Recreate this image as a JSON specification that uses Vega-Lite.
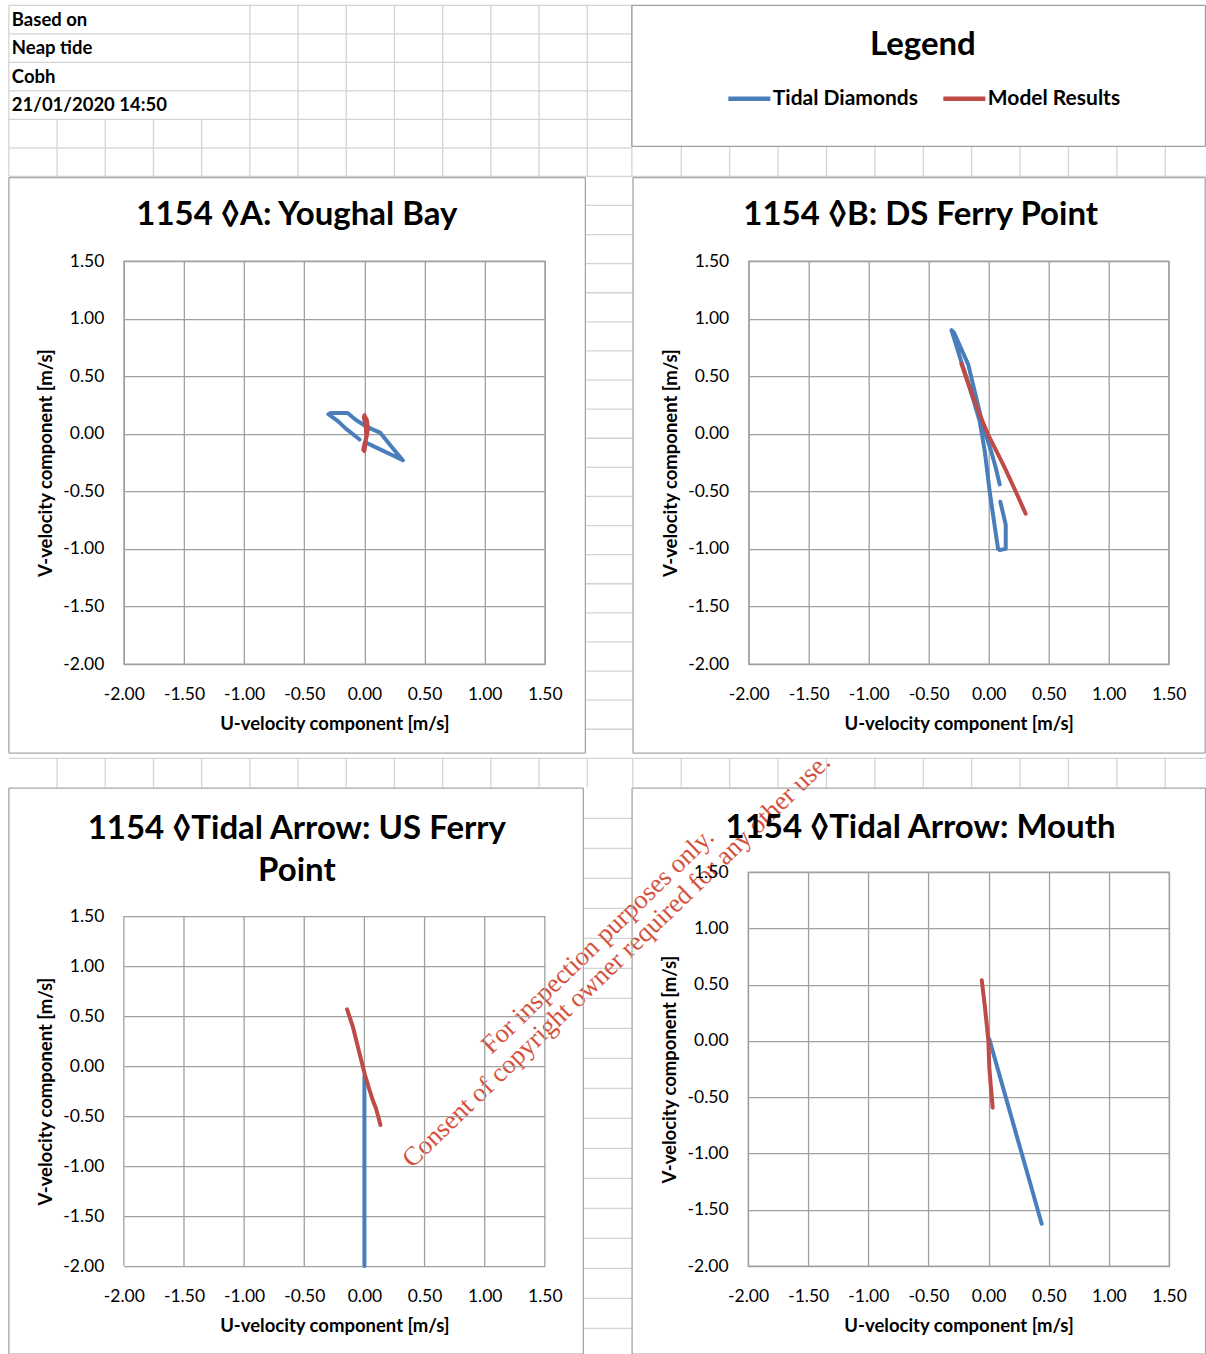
{
  "$schema": "https://vega.github.io/schema/vega-lite/v6.json",
  "background": "white",
  "padding": {"left": 6.85, "top": 4.35, "right": 0, "bottom": 0},
  "config": {
    "font": "Lato",
    "locale": {"number": {"decimal": ".", "thousands": ",", "grouping": [3], "currency": ["", ""], "minus": "-"}},
    "view": {"stroke": "#a0a0a0", "strokeWidth": 1.3},
    "axis": {"grid": true, "gridColor": "#a0a0a0", "gridWidth": 1.3, "domain": false, "ticks": false, "labelFont": "Lato", "labelFontSize": 17.5, "labelColor": "#000000", "labelFlush": false, "labelOverlap": false, "titleFont": "Lato", "titleFontSize": 18.5, "titleFontWeight": "bold", "titleColor": "#000000"},
    "axisX": {"labelPadding": 21, "titlePadding": 12},
    "axisY": {"labelPadding": 20, "titlePadding": 7},
    "title": {"font": "Lato", "fontSize": 33, "fontWeight": "bold", "color": "#000000", "anchor": "middle", "frame": "group"},
    "legend": {"padding": 0, "titleFont": "Lato", "titleFontSize": 33, "titleFontWeight": "bold", "titleColor": "#000000", "titleAnchor": "middle", "titlePadding": 13, "labelFont": "Lato", "labelFontSize": 21, "labelFontWeight": "bold", "labelColor": "#000000", "labelOffset": 0, "columnPadding": 15, "symbolType": "stroke", "symbolSize": 1764, "symbolStrokeWidth": 4.5}
  },
  "columns": 1,
  "align": "none",
  "spacing": -543.3,
  "concat": [
    {
      "columns": 1,
      "align": "none",
      "spacing": -1153.3,
      "concat": [
        {
          "width": 508, "height": 171,
          "view": {"stroke": null},
          "layer": [
            {
              "data": {"values": [{"k": 0}, {"k": 5}, {"k": 6}, {"k": 7}, {"k": 8}, {"k": 9}, {"k": 10}, {"k": 11}, {"k": 12}, {"k": 12.925}]},
              "mark": {"type": "rule", "color": "#d4d4d4", "strokeWidth": 1.3},
              "encoding": {
                "x": {"field": "k", "type": "quantitative", "scale": {"domain": [2.3859, 12.925], "nice": false, "zero": false}, "axis": null},
                "y": {"datum": 0, "type": "quantitative", "scale": {"domain": [0, 6], "nice": false, "zero": false, "reverse": true}, "axis": null},
                "y2": {"datum": 6}
              }
            },
            {
              "data": {"values": [{"k": 1}, {"k": 2}, {"k": 3}, {"k": 4}]},
              "mark": {"type": "rule", "color": "#d4d4d4", "strokeWidth": 1.3},
              "encoding": {
                "x": {"field": "k", "type": "quantitative", "axis": null},
                "y": {"datum": 4, "type": "quantitative", "axis": null},
                "y2": {"datum": 6}
              }
            },
            {
              "data": {"values": [{"r": 0}, {"r": 1}, {"r": 2}, {"r": 3}, {"r": 4}, {"r": 5}]},
              "mark": {"type": "rule", "color": "#d4d4d4", "strokeWidth": 1.3},
              "encoding": {
                "y": {"field": "r", "type": "quantitative", "axis": null},
                "x": {"datum": 0, "type": "quantitative", "axis": null},
                "x2": {"datum": 12.925}
              }
            },
            {
              "data": {"values": [
                {"r": 6, "k0": 0, "k1": 24.834},
                {"r": 7.021, "k0": 11.961, "k1": 12.946},
                {"r": 8.042, "k0": 11.961, "k1": 12.946},
                {"r": 9.063, "k0": 11.961, "k1": 12.946},
                {"r": 10.084, "k0": 11.961, "k1": 12.946},
                {"r": 11.105, "k0": 11.961, "k1": 12.946},
                {"r": 12.126, "k0": 11.961, "k1": 12.946},
                {"r": 13.147, "k0": 11.961, "k1": 12.946},
                {"r": 14.168, "k0": 11.961, "k1": 12.946},
                {"r": 15.189, "k0": 11.961, "k1": 12.946},
                {"r": 16.211, "k0": 11.961, "k1": 12.946},
                {"r": 17.232, "k0": 11.961, "k1": 12.946},
                {"r": 18.253, "k0": 11.961, "k1": 12.946},
                {"r": 19.274, "k0": 11.961, "k1": 12.946},
                {"r": 20.295, "k0": 11.961, "k1": 12.946},
                {"r": 21.316, "k0": 11.961, "k1": 12.946},
                {"r": 22.337, "k0": 11.961, "k1": 12.946},
                {"r": 23.358, "k0": 11.961, "k1": 12.946},
                {"r": 24.379, "k0": 11.961, "k1": 12.946},
                {"r": 25.4, "k0": 11.961, "k1": 12.946},
                {"r": 26.421, "k0": 0, "k1": 24.834},
                {"r": 28.526, "k0": 11.929, "k1": 12.925},
                {"r": 29.579, "k0": 11.929, "k1": 12.925},
                {"r": 30.632, "k0": 11.929, "k1": 12.925},
                {"r": 31.684, "k0": 11.929, "k1": 12.925},
                {"r": 32.737, "k0": 11.929, "k1": 12.925},
                {"r": 33.789, "k0": 11.929, "k1": 12.925},
                {"r": 34.842, "k0": 11.929, "k1": 12.925},
                {"r": 35.895, "k0": 11.929, "k1": 12.925},
                {"r": 36.947, "k0": 11.929, "k1": 12.925},
                {"r": 38.0, "k0": 11.929, "k1": 12.925},
                {"r": 39.053, "k0": 11.929, "k1": 12.925},
                {"r": 40.105, "k0": 11.929, "k1": 12.925},
                {"r": 41.158, "k0": 11.929, "k1": 12.925},
                {"r": 42.211, "k0": 11.929, "k1": 12.925},
                {"r": 43.263, "k0": 11.929, "k1": 12.925},
                {"r": 44.316, "k0": 11.929, "k1": 12.925},
                {"r": 45.368, "k0": 11.929, "k1": 12.925},
                {"r": 46.421, "k0": 11.929, "k1": 12.925}
              ]},
              "mark": {"type": "rule", "color": "#d4d4d4", "strokeWidth": 1.3},
              "encoding": {
                "y": {"field": "r", "type": "quantitative", "axis": null},
                "x": {"field": "k0", "type": "quantitative", "axis": null},
                "x2": {"field": "k1"}
              }
            },
            {
              "data": {"values": [
                {"k": 13.95, "r0": 4.947, "r1": 6},
                {"k": 14.954, "r0": 4.947, "r1": 6},
                {"k": 15.958, "r0": 4.947, "r1": 6},
                {"k": 16.963, "r0": 4.947, "r1": 6},
                {"k": 17.967, "r0": 4.947, "r1": 6},
                {"k": 18.971, "r0": 4.947, "r1": 6},
                {"k": 19.975, "r0": 4.947, "r1": 6},
                {"k": 20.979, "r0": 4.947, "r1": 6},
                {"k": 21.983, "r0": 4.947, "r1": 6},
                {"k": 22.988, "r0": 4.947, "r1": 6},
                {"k": 23.992, "r0": 4.947, "r1": 6},
                {"k": 1, "r0": 26.421, "r1": 27.439},
                {"k": 2, "r0": 26.421, "r1": 27.439},
                {"k": 3, "r0": 26.421, "r1": 27.439},
                {"k": 4, "r0": 26.421, "r1": 27.439},
                {"k": 5, "r0": 26.421, "r1": 27.439},
                {"k": 6, "r0": 26.421, "r1": 27.439},
                {"k": 7, "r0": 26.421, "r1": 27.439},
                {"k": 8, "r0": 26.421, "r1": 27.439},
                {"k": 9, "r0": 26.421, "r1": 27.439},
                {"k": 10, "r0": 26.421, "r1": 27.439},
                {"k": 11, "r0": 26.421, "r1": 27.439},
                {"k": 12, "r0": 26.421, "r1": 27.439},
                {"k": 12.946, "r0": 26.421, "r1": 27.439},
                {"k": 13.95, "r0": 26.421, "r1": 27.439},
                {"k": 14.954, "r0": 26.421, "r1": 27.439},
                {"k": 15.958, "r0": 26.421, "r1": 27.439},
                {"k": 16.963, "r0": 26.421, "r1": 27.439},
                {"k": 17.967, "r0": 26.421, "r1": 27.439},
                {"k": 18.971, "r0": 26.421, "r1": 27.439},
                {"k": 19.975, "r0": 26.421, "r1": 27.439},
                {"k": 20.979, "r0": 26.421, "r1": 27.439},
                {"k": 21.983, "r0": 26.421, "r1": 27.439},
                {"k": 22.988, "r0": 26.421, "r1": 27.439},
                {"k": 23.992, "r0": 26.421, "r1": 27.439}
              ]},
              "mark": {"type": "rule", "color": "#d4d4d4", "strokeWidth": 1.3},
              "encoding": {
                "x": {"field": "k", "type": "quantitative", "axis": null},
                "y": {"field": "r0", "type": "quantitative", "axis": null},
                "y2": {"field": "r1"}
              }
            },
            {
              "data": {"values": [{"r": 0, "k0": 12.925, "k1": 24.824}, {"r": 4.947, "k0": 12.925, "k1": 24.824}]},
              "mark": {"type": "rule", "color": "#a0a0a0", "strokeWidth": 1.3},
              "encoding": {
                "y": {"field": "r", "type": "quantitative", "axis": null},
                "x": {"field": "k0", "type": "quantitative", "axis": null},
                "x2": {"field": "k1"}
              }
            },
            {
              "data": {"values": [{"k": 12.925, "r0": 0, "r1": 4.947}, {"k": 24.824, "r0": 0, "r1": 4.947}]},
              "mark": {"type": "rule", "color": "#a0a0a0", "strokeWidth": 1.3},
              "encoding": {
                "x": {"field": "k", "type": "quantitative", "axis": null},
                "y": {"field": "r0", "type": "quantitative", "axis": null},
                "y2": {"field": "r1"}
              }
            },
            {
              "data": {"values": [{"row": 0, "t": "Based on"}, {"row": 1, "t": "Neap tide"}, {"row": 2, "t": "Cobh"}, {"row": 3, "t": "21/01/2020 14:50"}]},
              "mark": {"type": "text", "align": "left", "baseline": "middle", "dx": 3, "dy": 14.25, "font": "Lato", "fontSize": 18.5, "fontWeight": "bold", "color": "#000000"},
              "encoding": {
                "x": {"datum": 0, "type": "quantitative", "axis": null},
                "y": {"field": "row", "type": "quantitative", "axis": null},
                "text": {"field": "t"}
              }
            }
          ]
        },
        {
          "spacing": -209.15,
          "hconcat": [
            {
              "width": 421, "height": 403,
              "title": {"text": "1154 ◊A: Youghal Bay", "dx": -37.5, "offset": -55.5},
              "layer": [
                {
                  "data": {"values": [{"u": -2.956}, {"u": 1.837}]},
                  "mark": {"type": "rule", "color": "#a6a6a6", "strokeWidth": 1.3},
                  "encoding": {
                    "x": {"field": "u", "type": "quantitative", "title": "U-velocity component [m/s]"},
                    "y": {"datum": 2.225, "type": "quantitative", "title": "V-velocity component [m/s]"},
                    "y2": {"datum": -2.773}
                  }
                },
                {
                  "data": {"values": [{"v": 2.225}, {"v": -2.773}]},
                  "mark": {"type": "rule", "color": "#a6a6a6", "strokeWidth": 1.3},
                  "encoding": {
                    "y": {"field": "v", "type": "quantitative", "title": "V-velocity component [m/s]"},
                    "x": {"datum": -2.956, "type": "quantitative", "title": "U-velocity component [m/s]"},
                    "x2": {"datum": 1.837}
                  }
                },
                {
                  "data": {"values": [
                    {"s": "Tidal Diamonds", "g": 1, "i": 0, "u": -0.04, "v": -0.05},
                    {"s": "Tidal Diamonds", "g": 1, "i": 1, "u": -0.10, "v": 0.00},
                    {"s": "Tidal Diamonds", "g": 1, "i": 2, "u": -0.15, "v": 0.04},
                    {"s": "Tidal Diamonds", "g": 1, "i": 3, "u": -0.22, "v": 0.11},
                    {"s": "Tidal Diamonds", "g": 1, "i": 4, "u": -0.30, "v": 0.17},
                    {"s": "Tidal Diamonds", "g": 1, "i": 5, "u": -0.28, "v": 0.18},
                    {"s": "Tidal Diamonds", "g": 1, "i": 6, "u": -0.14, "v": 0.18},
                    {"s": "Tidal Diamonds", "g": 1, "i": 7, "u": -0.07, "v": 0.12},
                    {"s": "Tidal Diamonds", "g": 1, "i": 8, "u": 0.02, "v": 0.06},
                    {"s": "Tidal Diamonds", "g": 1, "i": 9, "u": 0.13, "v": 0.01},
                    {"s": "Tidal Diamonds", "g": 1, "i": 10, "u": 0.20, "v": -0.08},
                    {"s": "Tidal Diamonds", "g": 1, "i": 11, "u": 0.27, "v": -0.17},
                    {"s": "Tidal Diamonds", "g": 1, "i": 12, "u": 0.32, "v": -0.23},
                    {"s": "Tidal Diamonds", "g": 1, "i": 13, "u": 0.22, "v": -0.18},
                    {"s": "Tidal Diamonds", "g": 1, "i": 14, "u": 0.10, "v": -0.12},
                    {"s": "Tidal Diamonds", "g": 1, "i": 15, "u": 0.02, "v": -0.08},
                    {"s": "Model Results", "g": 2, "i": 0, "u": 0.00, "v": 0.16},
                    {"s": "Model Results", "g": 2, "i": 1, "u": 0.02, "v": 0.12},
                    {"s": "Model Results", "g": 2, "i": 2, "u": 0.03, "v": 0.05},
                    {"s": "Model Results", "g": 2, "i": 3, "u": 0.02, "v": -0.02},
                    {"s": "Model Results", "g": 2, "i": 4, "u": 0.00, "v": -0.09},
                    {"s": "Model Results", "g": 2, "i": 5, "u": -0.01, "v": -0.14},
                    {"s": "Model Results", "g": 2, "i": 6, "u": 0.00, "v": -0.15},
                    {"s": "Model Results", "g": 2, "i": 7, "u": 0.01, "v": -0.08},
                    {"s": "Model Results", "g": 2, "i": 8, "u": 0.015, "v": 0.00},
                    {"s": "Model Results", "g": 2, "i": 9, "u": 0.01, "v": 0.08},
                    {"s": "Model Results", "g": 2, "i": 10, "u": -0.005, "v": 0.14},
                    {"s": "Model Results", "g": 2, "i": 11, "u": 0.00, "v": 0.16}
                  ]},
                  "mark": {"type": "line", "strokeWidth": 4, "strokeCap": "round", "strokeJoin": "round"},
                  "encoding": {
                    "x": {"field": "u", "type": "quantitative", "title": "U-velocity component [m/s]", "scale": {"domain": [-2, 1.5], "nice": false, "zero": false}, "axis": {"values": [-2, -1.5, -1, -0.5, 0, 0.5, 1, 1.5], "format": ".2f"}},
                    "y": {"field": "v", "type": "quantitative", "title": "V-velocity component [m/s]", "scale": {"domain": [-2, 1.5], "nice": false, "zero": false}, "axis": {"values": [-2, -1.5, -1, -0.5, 0, 0.5, 1, 1.5], "format": ".2f"}},
                    "color": {"field": "s", "type": "nominal", "scale": {"domain": ["Tidal Diamonds", "Model Results"], "range": ["#4a7ebb", "#be4b48"]}, "legend": {"title": "Legend", "orient": "none", "legendX": 602, "legendY": 23.65, "direction": "horizontal"}},
                    "detail": {"field": "g"},
                    "order": {"field": "i"}
                  }
                }
              ]
            },
            {
              "width": 420, "height": 403,
              "title": {"text": "1154 ◊B: DS Ferry Point", "dx": -38, "offset": -55.5},
              "layer": [
                {
                  "data": {"values": [{"u": -2.964}, {"u": 1.804}]},
                  "mark": {"type": "rule", "color": "#a6a6a6", "strokeWidth": 1.3},
                  "encoding": {
                    "x": {"field": "u", "type": "quantitative", "title": "U-velocity component [m/s]"},
                    "y": {"datum": 2.225, "type": "quantitative", "title": "V-velocity component [m/s]"},
                    "y2": {"datum": -2.773}
                  }
                },
                {
                  "data": {"values": [{"v": 2.225}, {"v": -2.773}]},
                  "mark": {"type": "rule", "color": "#a6a6a6", "strokeWidth": 1.3},
                  "encoding": {
                    "y": {"field": "v", "type": "quantitative", "title": "V-velocity component [m/s]"},
                    "x": {"datum": -2.964, "type": "quantitative", "title": "U-velocity component [m/s]"},
                    "x2": {"datum": 1.804}
                  }
                },
                {
                  "data": {"values": [
                    {"s": "Tidal Diamonds", "g": 1, "i": 0, "u": 0.097, "v": -0.59},
                    {"s": "Tidal Diamonds", "g": 1, "i": 1, "u": 0.142, "v": -0.79},
                    {"s": "Tidal Diamonds", "g": 1, "i": 2, "u": 0.142, "v": -1.00},
                    {"s": "Tidal Diamonds", "g": 1, "i": 3, "u": 0.092, "v": -1.01},
                    {"s": "Tidal Diamonds", "g": 1, "i": 4, "u": 0.078, "v": -1.00},
                    {"s": "Tidal Diamonds", "g": 1, "i": 5, "u": 0.044, "v": -0.76},
                    {"s": "Tidal Diamonds", "g": 1, "i": 6, "u": 0.008, "v": -0.50},
                    {"s": "Tidal Diamonds", "g": 1, "i": 7, "u": -0.033, "v": -0.15},
                    {"s": "Tidal Diamonds", "g": 1, "i": 8, "u": -0.075, "v": 0.11},
                    {"s": "Tidal Diamonds", "g": 1, "i": 9, "u": -0.158, "v": 0.40},
                    {"s": "Tidal Diamonds", "g": 1, "i": 10, "u": -0.23, "v": 0.63},
                    {"s": "Tidal Diamonds", "g": 1, "i": 11, "u": -0.31, "v": 0.90},
                    {"s": "Tidal Diamonds", "g": 1, "i": 12, "u": -0.29, "v": 0.88},
                    {"s": "Tidal Diamonds", "g": 1, "i": 13, "u": -0.17, "v": 0.60},
                    {"s": "Tidal Diamonds", "g": 1, "i": 14, "u": -0.117, "v": 0.37},
                    {"s": "Tidal Diamonds", "g": 1, "i": 15, "u": -0.05, "v": 0.08},
                    {"s": "Tidal Diamonds", "g": 1, "i": 16, "u": 0.02, "v": -0.15},
                    {"s": "Tidal Diamonds", "g": 1, "i": 17, "u": 0.06, "v": -0.30},
                    {"s": "Tidal Diamonds", "g": 1, "i": 18, "u": 0.092, "v": -0.44},
                    {"s": "Model Results", "g": 2, "i": 0, "u": -0.228, "v": 0.61},
                    {"s": "Model Results", "g": 2, "i": 1, "u": -0.144, "v": 0.356},
                    {"s": "Model Results", "g": 2, "i": 2, "u": -0.075, "v": 0.168},
                    {"s": "Model Results", "g": 2, "i": 3, "u": -0.006, "v": -0.005},
                    {"s": "Model Results", "g": 2, "i": 4, "u": 0.092, "v": -0.208},
                    {"s": "Model Results", "g": 2, "i": 5, "u": 0.147, "v": -0.324},
                    {"s": "Model Results", "g": 2, "i": 6, "u": 0.23, "v": -0.512},
                    {"s": "Model Results", "g": 2, "i": 7, "u": 0.308, "v": -0.695}
                  ]},
                  "mark": {"type": "line", "strokeWidth": 4, "strokeCap": "round", "strokeJoin": "round"},
                  "encoding": {
                    "x": {"field": "u", "type": "quantitative", "title": "U-velocity component [m/s]", "scale": {"domain": [-2, 1.5], "nice": false, "zero": false}, "axis": {"values": [-2, -1.5, -1, -0.5, 0, 0.5, 1, 1.5], "format": ".2f"}},
                    "y": {"field": "v", "type": "quantitative", "title": "V-velocity component [m/s]", "scale": {"domain": [-2, 1.5], "nice": false, "zero": false}, "axis": {"values": [-2, -1.5, -1, -0.5, 0, 0.5, 1, 1.5], "format": ".2f"}},
                    "color": {"field": "s", "type": "nominal", "scale": {"domain": ["Tidal Diamonds", "Model Results"], "range": ["#4a7ebb", "#be4b48"]}},
                    "detail": {"field": "g"},
                    "order": {"field": "i"}
                  }
                },
                {
                  "data": {"values": [{"note": "For inspection purposes only.\nConsent of copyright owner required for any other use.", "u": -3.258, "v": -4.406}]},
                  "mark": {"type": "text", "angle": -44, "align": "center", "baseline": "middle", "lineBreak": "\n", "lineHeight": 27, "font": "Liberation Serif", "fontSize": 26.5, "color": "#d4513e"},
                  "encoding": {
                    "x": {"field": "u", "type": "quantitative", "title": "U-velocity component [m/s]"},
                    "y": {"field": "v", "type": "quantitative", "title": "V-velocity component [m/s]"},
                    "text": {"field": "note"}
                  }
                }
              ]
            }
          ]
        }
      ]
    },
    {
      "spacing": 45.2,
      "hconcat": [
        {
          "width": 421, "height": 394,
          "view": {"stroke": null},
          "title": {"text": ["1154 ◊Tidal Arrow: US Ferry", "Point"], "lineHeight": 42, "dx": -37.5, "offset": -100.6},
          "layer": [
            {
              "data": {"values": [{"u": -2}, {"u": -1.5}, {"u": -1}, {"u": -0.5}, {"u": 0}, {"u": 0.5}, {"u": 1}, {"u": 1.5}]},
              "mark": {"type": "rule", "color": "#a0a0a0", "strokeWidth": 1.3},
              "encoding": {
                "x": {"field": "u", "type": "quantitative", "title": "U-velocity component [m/s]"},
                "y": {"datum": -2, "type": "quantitative", "title": "V-velocity component [m/s]"},
                "y2": {"datum": 1.5}
              }
            },
            {
              "data": {"values": [{"u": -2.956}, {"u": 1.82}]},
              "mark": {"type": "rule", "color": "#a6a6a6", "strokeWidth": 1.3},
              "encoding": {
                "x": {"field": "u", "type": "quantitative", "title": "U-velocity component [m/s]"},
                "y": {"datum": 2.78, "type": "quantitative", "title": "V-velocity component [m/s]"},
                "y2": {"datum": -2.88}
              }
            },
            {
              "data": {"values": [{"v": 2.78}, {"v": -2.88}]},
              "mark": {"type": "rule", "color": "#a6a6a6", "strokeWidth": 1.3},
              "encoding": {
                "y": {"field": "v", "type": "quantitative", "title": "V-velocity component [m/s]"},
                "x": {"datum": -2.956, "type": "quantitative", "title": "U-velocity component [m/s]"},
                "x2": {"datum": 1.82}
              }
            },
            {
              "data": {"values": [
                {"s": "Tidal Diamonds", "g": 1, "i": 0, "u": 0.0, "v": -0.1},
                {"s": "Tidal Diamonds", "g": 1, "i": 1, "u": 0.0, "v": -2.0},
                {"s": "Model Results", "g": 2, "i": 0, "u": -0.144, "v": 0.567},
                {"s": "Model Results", "g": 2, "i": 1, "u": -0.094, "v": 0.383},
                {"s": "Model Results", "g": 2, "i": 2, "u": -0.039, "v": 0.117},
                {"s": "Model Results", "g": 2, "i": 3, "u": 0.003, "v": -0.083},
                {"s": "Model Results", "g": 2, "i": 4, "u": 0.045, "v": -0.25},
                {"s": "Model Results", "g": 2, "i": 5, "u": 0.072, "v": -0.35},
                {"s": "Model Results", "g": 2, "i": 6, "u": 0.094, "v": -0.417},
                {"s": "Model Results", "g": 2, "i": 7, "u": 0.114, "v": -0.5},
                {"s": "Model Results", "g": 2, "i": 8, "u": 0.133, "v": -0.59}
              ]},
              "mark": {"type": "line", "strokeWidth": 4, "strokeCap": "round", "strokeJoin": "round"},
              "encoding": {
                "x": {"field": "u", "type": "quantitative", "title": "U-velocity component [m/s]", "scale": {"domain": [-2, 1.5], "nice": false, "zero": false}, "axis": {"values": [-2, -1.5, -1, -0.5, 0, 0.5, 1, 1.5], "format": ".2f", "grid": false}},
                "y": {"field": "v", "type": "quantitative", "title": "V-velocity component [m/s]", "scale": {"domain": [-2, 1.94], "nice": false, "zero": false}, "axis": {"values": [-2, -1.5, -1, -0.5, 0, 0.5, 1, 1.5], "format": ".2f", "titleY": 219}},
                "color": {"field": "s", "type": "nominal", "scale": {"domain": ["Tidal Diamonds", "Model Results"], "range": ["#4a7ebb", "#be4b48"]}},
                "detail": {"field": "g"},
                "order": {"field": "i"}
              }
            }
          ]
        },
        {
          "width": 421, "height": 394,
          "title": {"text": "1154 ◊Tidal Arrow: Mouth", "dx": -38, "offset": -57.5},
          "layer": [
            {
              "data": {"values": [{"u": -2.964}, {"u": 1.803}]},
              "mark": {"type": "rule", "color": "#a6a6a6", "strokeWidth": 1.3},
              "encoding": {
                "x": {"field": "u", "type": "quantitative", "title": "U-velocity component [m/s]"},
                "y": {"datum": 2.246, "type": "quantitative", "title": "V-velocity component [m/s]"},
                "y2": {"datum": -2.782}
              }
            },
            {
              "data": {"values": [{"v": 2.246}, {"v": -2.782}]},
              "mark": {"type": "rule", "color": "#a6a6a6", "strokeWidth": 1.3},
              "encoding": {
                "y": {"field": "v", "type": "quantitative", "title": "V-velocity component [m/s]"},
                "x": {"datum": -2.964, "type": "quantitative", "title": "U-velocity component [m/s]"},
                "x2": {"datum": 1.803}
              }
            },
            {
              "data": {"values": [
                {"s": "Tidal Diamonds", "g": 1, "i": 0, "u": 0.006, "v": 0.014},
                {"s": "Tidal Diamonds", "g": 1, "i": 1, "u": 0.441, "v": -1.624},
                {"s": "Model Results", "g": 2, "i": 0, "u": -0.057, "v": 0.538},
                {"s": "Model Results", "g": 2, "i": 1, "u": -0.03, "v": 0.295},
                {"s": "Model Results", "g": 2, "i": 2, "u": -0.002, "v": 0.0},
                {"s": "Model Results", "g": 2, "i": 3, "u": 0.006, "v": -0.238},
                {"s": "Model Results", "g": 2, "i": 4, "u": 0.017, "v": -0.386},
                {"s": "Model Results", "g": 2, "i": 5, "u": 0.034, "v": -0.593}
              ]},
              "mark": {"type": "line", "strokeWidth": 4, "strokeCap": "round", "strokeJoin": "round"},
              "encoding": {
                "x": {"field": "u", "type": "quantitative", "title": "U-velocity component [m/s]", "scale": {"domain": [-2, 1.5], "nice": false, "zero": false}, "axis": {"values": [-2, -1.5, -1, -0.5, 0, 0.5, 1, 1.5], "format": ".2f"}},
                "y": {"field": "v", "type": "quantitative", "title": "V-velocity component [m/s]", "scale": {"domain": [-2, 1.5], "nice": false, "zero": false}, "axis": {"values": [-2, -1.5, -1, -0.5, 0, 0.5, 1, 1.5], "format": ".2f"}},
                "color": {"field": "s", "type": "nominal", "scale": {"domain": ["Tidal Diamonds", "Model Results"], "range": ["#4a7ebb", "#be4b48"]}},
                "detail": {"field": "g"},
                "order": {"field": "i"}
              }
            }
          ]
        }
      ]
    }
  ]
}
